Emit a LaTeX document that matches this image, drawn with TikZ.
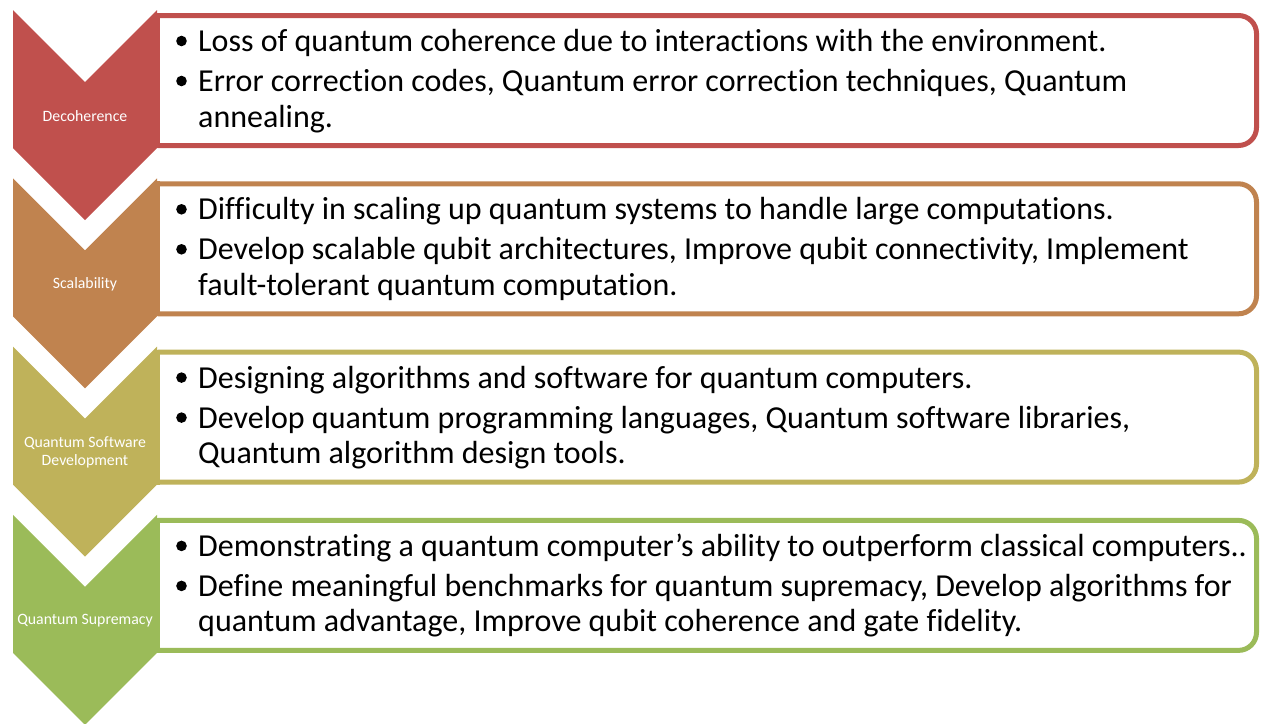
\documentclass[tikz,border=0pt]{standalone}
\usepackage{fontspec}
\setmainfont{Carlito}[Ligatures={TeX,NoCommon}]
\usepackage{xcolor}
\usepackage{tikz}

\definecolor{decored}{HTML}{C0504D}
\definecolor{scalebrown}{HTML}{C0834F}
\definecolor{softolive}{HTML}{BFB25A}
\definecolor{supgreen}{HTML}{9BBB59}

\tikzset{
  chevlabel/.style={text=white,align=center,inner sep=0pt,font=\fontsize{15.8}{18.5}\selectfont},
  bulletline/.style={anchor=base west,align=left,inner sep=0pt,font=\fontsize{32}{35.5}\selectfont},
}

\begin{document}
\begin{tikzpicture}[x=1pt,y=-1pt]
  \useasboundingbox (0,0) rectangle (1261,723);
  % chevrons and boxes
  \foreach \i/\c/\lab in {0/decored/Decoherence,1/scalebrown/Scalability,2/softolive/{Quantum Software\\Development},3/supgreen/Quantum Supremacy} {
    \pgfmathsetmacro{\t}{10+168.3*\i}
    \fill[white] (157.5,\t+5.5) rectangle (1256.5,\t+135.5);
    \draw[\c,line width=5pt,rounded corners=18pt] (157.5,\t+5.5) -- (1256.5,\t+5.5) -- (1256.5,\t+135.5) -- (157.5,\t+135.5);
    \draw[\c,line width=5pt] (157.5,\t+3) -- (157.5,\t+138);
    \fill[\c] (13,\t) -- (85,\t+72) -- (157,\t) -- (157,\t+138) -- (85,\t+210) -- (13,\t+138) -- cycle;
    \node[chevlabel] (lab\i) at (85,\t+106) {\lab};
  }
  % bullet texts (second item has two lines, anchored on its last line)
  \foreach \i/\one/\two in {
    0/{Loss of quantum coherence due to interactions with the environment.}/{Error correction codes, Quantum error correction techniques, Quantum\\annealing.},
    1/{Difficulty in scaling up quantum systems to handle large computations.}/{Develop scalable qubit architectures, Improve qubit connectivity, Implement\\fault-tolerant quantum computation.},
    2/{Designing algorithms and software for quantum computers.}/{Develop quantum programming languages, Quantum software libraries,\\Quantum algorithm design tools.},
    3/{Demonstrating a quantum computer's ability to outperform classical computers..}/{Define meaningful benchmarks for quantum supremacy, Develop algorithms for\\quantum advantage, Improve qubit coherence and gate fidelity.}} {
    \pgfmathsetmacro{\t}{13+168.3*\i}
    \node[bulletline] (first\i) at (198,\t+38.5) {\one};
    \node[bulletline] (second\i) at (198,\t+114) {\two};
    \fill (181.5,\t+28) circle (5.3pt);
    \fill (181.5,\t+68) circle (5.3pt);
  }
\end{tikzpicture}
\end{document}
